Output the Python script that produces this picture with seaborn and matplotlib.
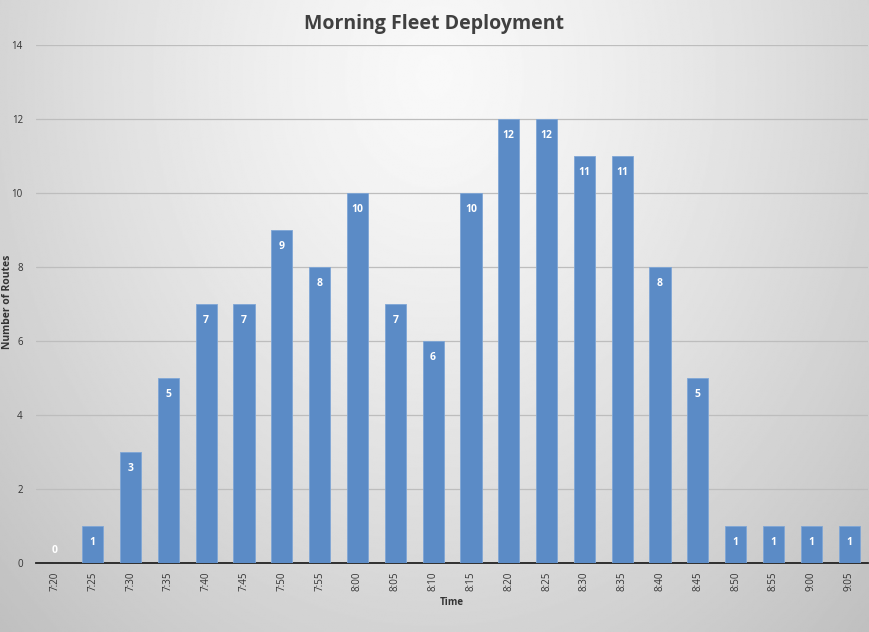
import numpy as np
import pandas as pd
import matplotlib
matplotlib.use("Agg")
import matplotlib.pyplot as plt
import seaborn as sns

# ── data ─────────────────────────────────────────────────────────────────────
times = ["7:20", "7:25", "7:30", "7:35", "7:40", "7:45", "7:50", "7:55",
         "8:00", "8:05", "8:10", "8:15", "8:20", "8:25", "8:30", "8:35",
         "8:40", "8:45", "8:50", "8:55", "9:00", "9:05"]
routes = [0, 1, 3, 5, 7, 7, 9, 8, 10, 7, 6, 10, 12, 12, 11, 11, 8, 5,
          1, 1, 1, 1]
y_ticks = [0, 2, 4, 6, 8, 10, 12, 14]

df = pd.DataFrame({"Time": times, "Routes": routes})

sns.set_style("white")
plt.rcParams["font.family"] = ["Open Sans", "DejaVu Sans"]

fig = plt.figure(figsize=(8.69, 6.32), dpi=100)

# ── grey radial-ish gradient behind everything ───────────────────────────────
bg = fig.add_axes([0, 0, 1, 1], zorder=0)
yy, xx = np.mgrid[0:1:400j, 0:1:600j]
d = np.sqrt(((xx - 0.5) / 0.55) ** 2 + ((yy - 0.12) / 0.95) ** 2)
shade = np.clip(0.975 - 0.16 * d ** 1.3, 0.74, 1)
bg.imshow(shade, cmap="gray", vmin=0, vmax=1, aspect="auto",
          extent=[0, 1, 1, 0], interpolation="bilinear")
bg.set_axis_off()

ax = fig.add_axes([0.0414, 0.109, 0.9575, 0.820], zorder=1)
ax.patch.set_alpha(0)

sns.barplot(data=df, x="Time", y="Routes", color="#5B8BC6", saturation=1,
            width=0.56, edgecolor="#7FA6D6", linewidth=0.6, ax=ax, zorder=3)

# white value labels inside the top of each bar (zero sits just above axis)
for i, v in enumerate(routes):
    dy = -12 if v > 0 else 9
    ax.annotate(str(v), (i, v), xytext=(0, dy), textcoords="offset points",
                ha="center", va="center", color="white", fontsize=7.5,
                fontweight="bold", zorder=4)

ax.set_ylim(0, 14)
ax.set_xlim(-0.5, len(times) - 0.5)
ax.set_yticks(y_ticks)
ax.yaxis.grid(True, color="#BDBDBD", linewidth=0.9, zorder=0)
ax.set_axisbelow(True)

for s in ["top", "right", "left"]:
    ax.spines[s].set_visible(False)
ax.spines["bottom"].set_color("#222222")
ax.spines["bottom"].set_linewidth(1.3)

# tick marks sit between categories
ax.set_xticks(np.arange(-0.5, len(times), 1), minor=True)
ax.tick_params(axis="x", which="major", length=0, rotation=90,
               labelsize=7, labelcolor="#333333", pad=6)
ax.tick_params(axis="x", which="minor", length=4, width=1, color="#222222",
               direction="out")
ax.tick_params(axis="y", length=0, labelsize=7, labelcolor="#333333", pad=9.5)

ax.set_xlabel("Time", fontsize=7, fontweight="bold", color="#333333",
              labelpad=4)
ax.set_ylabel("Number of Routes", fontsize=7.5, fontweight="bold",
              color="#333333")
ax.yaxis.set_label_coords(-0.028, 0.504)

fig.text(0.5, 0.962, "Morning Fleet Deployment", ha="center", va="center",
         fontsize=14, fontweight="bold", color="#404040")

fig.savefig("out.png", dpi=100)
